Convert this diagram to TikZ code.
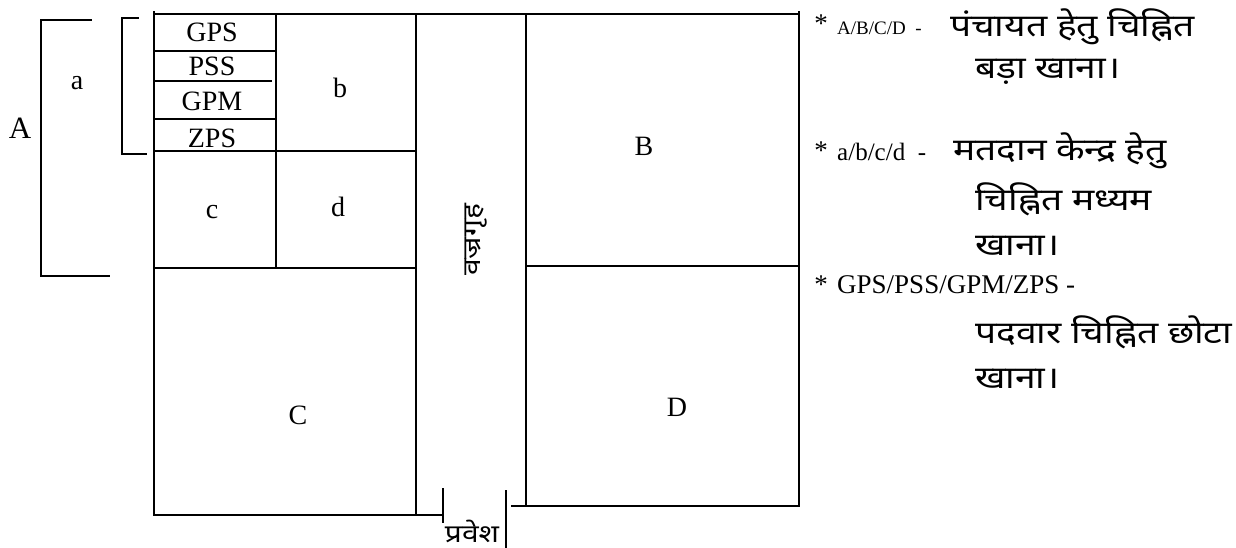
\documentclass[tikz,border=0pt]{standalone}
\usepackage{fontspec}
\setmainfont{Liberation Serif}
\newfontfamily\hindi[Script=Devanagari,FakeStretch=1.2]{Noto Sans}
\begin{document}
\begin{tikzpicture}[x=1pt,y=-1pt,
  wall/.style={line width=1.8pt,line cap=rect},
  lbl/.style={inner sep=0pt,font=\fontsize{28}{30}\selectfont},
  big/.style={inner sep=0pt,font=\fontsize{31}{34}\selectfont},
  lbox/.style={inner sep=0pt,font=\fontsize{28}{30}\selectfont},
  hin/.style={inner sep=0pt,anchor=west,font=\hindi\fontsize{31}{34}\selectfont},
  leg/.style={inner sep=0pt,anchor=west,font=\fontsize{25}{30}\selectfont},
  star/.style={inner sep=0pt,font=\fontsize{27}{30}\selectfont}]
\useasboundingbox (0,0) rectangle (1236,547);
% brackets
\draw[wall] (91,20) -- (41,20) -- (41,276) -- (109,276);
\draw[wall] (138,18) -- (122,18) -- (122,154) -- (146,154);
% outer walls
\draw[wall] (154,12) -- (154,515);
\draw[wall] (154,14) -- (799,14);
\draw[wall] (799,12) -- (799,506);
\draw[wall] (154,515) -- (443,515);
\draw[wall] (443,489) -- (443,522);
\draw[wall] (506,491) -- (506,547);
\draw[wall] (416,14) -- (416,515);
\draw[wall] (526,14) -- (526,504);
\draw[wall] (512,506) -- (799,506);
% inner divisions
\draw[wall] (276,14) -- (276,268);
\draw[wall] (154,268) -- (416,268);
\draw[wall] (154,151) -- (416,151);
\draw[wall] (154,119) -- (276,119);
\draw[wall] (154,81) -- (271,81);
\draw[wall] (154,51) -- (276,51);
\draw[wall] (526,266) -- (799,266);
% labels
\node[big] (lA) at (20,128) {A};
\node[lbl] (la) at (77,83) {a};
\node[lbox] (gps) at (212,32) {GPS};
\node[lbox] (pss) at (212,66) {PSS};
\node[lbox] (gpm) at (212,101) {GPM};
\node[lbox] (zps) at (212,138) {ZPS};
\node[lbl] (lb) at (340,88) {b};
\node[lbl] (lc) at (212,212) {c};
\node[lbl] (ld) at (338,207) {d};
\node[lbl] (lB) at (644,146) {B};
\node[lbl] (lC) at (298,415) {C};
\node[lbl] (lD) at (677,407) {D};
\node[inner sep=0pt,rotate=90,font=\hindi\fontsize{25}{28}\selectfont] (vaj) at (476,240) {वज्रगृह};
\node[inner sep=0pt,font=\hindi\fontsize{25}{28}\selectfont] (prv) at (472,531) {प्रवेश};
% legend
\node[star] (s1) at (821,24) {*};
\node[leg,font=\fontsize{19}{24}\selectfont] (t1) at (837,28) {A/B/C/D \ -};
\node[hin] (h1) at (950,27) {पंचायत हेतु चिह्नित};
\node[hin] (h2) at (975,72) {बड़ा खाना।};
\node[star] (s2) at (821,151) {*};
\node[leg] (t2) at (837,152) {a/b/c/d \ -};
\node[hin] (h3) at (953,151) {मतदान केन्द्र हेतु};
\node[hin] (h4) at (975,199) {चिह्नित मध्यम};
\node[hin] (h5) at (975,246) {खाना।};
\node[star] (s3) at (821,285) {*};
\node[leg,font=\fontsize{27}{30}\selectfont] (t3) at (837,285) {GPS/PSS/GPM/ZPS -};
\node[hin] (h6) at (975,332) {पदवार चिह्नित छोटा};
\node[hin] (h7) at (975,379) {खाना।};
\end{tikzpicture}
\end{document}
